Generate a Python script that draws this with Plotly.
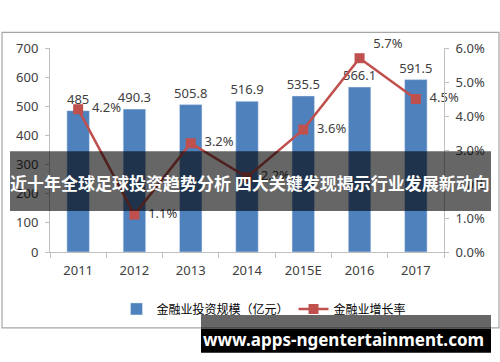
import plotly.graph_objects as go

categories = ["2011", "2012", "2013", "2014", "2015E", "2016", "2017"]
invest_scale = [485, 490.3, 505.8, 516.9, 535.5, 566.1, 591.5]
growth_rate = [0.042, 0.011, 0.032, 0.022, 0.036, 0.057, 0.045]
bar_name = "金融业投资规模（亿元）"
line_name = "金融业增长率"
title_text = "近十年全球足球投资趋势分析 四大关键发现揭示行业发展新动向"
watermark = "www.apps-ngentertainment.com"

W, H = 500, 362
L, R, T, B = 50, 444, 47.7, 252.0

def px(x):
    return (x - L) / (R - L)

def py(y):
    return (B - y) / (B - T)

FONT = "Noto Sans, Noto Sans CJK SC, sans-serif"
TXT = "#404040"

line_pos = ["middle right"] * len(categories)
line_pos[5] = "top right"

fig = go.Figure()
fig.add_trace(go.Bar(
    x=categories, y=invest_scale, name=bar_name,
    marker=dict(color="#4f81bd"), width=0.4,
    text=[f"{v:g}" for v in invest_scale], textposition="outside",
    constraintext="none",
    textfont=dict(size=13, color=TXT, family=FONT), cliponaxis=False,
))
fig.add_trace(go.Scatter(
    x=categories, y=growth_rate, name=line_name, yaxis="y2",
    mode="lines+markers+text",
    line=dict(color="#c0504d", width=2.5),
    marker=dict(symbol="square", size=10, color="#c0504d"),
    text=[f"\u2002{v*100:.1f}%" for v in growth_rate], textposition=line_pos,
    textfont=dict(size=13, color=TXT, family=FONT), cliponaxis=False,
))

shapes = [
    dict(type="rect", xref="paper", yref="paper", x0=px(2), x1=px(499), y0=py(328), y1=py(32),
         line=dict(color="#a6a6a6", width=1.2), fillcolor="rgba(0,0,0,0)", layer="below"),
    dict(type="rect", xref="paper", yref="paper", x0=px(10), x1=px(491), y0=py(211), y1=py(151),
         line=dict(width=0), fillcolor="rgba(0,0,0,0.6)", layer="above"),
    dict(type="rect", xref="paper", yref="paper", x0=px(201), x1=px(491), y0=py(329), y1=py(315),
         line=dict(width=0), fillcolor="rgba(0,0,0,0.6)", layer="above"),
    dict(type="rect", xref="paper", yref="paper", x0=px(201), x1=px(491), y0=py(353), y1=py(329),
         line=dict(width=0), fillcolor="#000000", layer="above"),
]

annotations = [
    dict(text=f"<b>{title_text}</b>", xref="paper", yref="paper", x=px(250), y=py(182),
         xanchor="center", yanchor="middle", showarrow=False,
         font=dict(size=17, color="white", family="Noto Sans CJK SC")),
    dict(text=f"<b>{watermark}</b>", xref="paper", yref="paper", x=px(343), y=py(340),
         xanchor="center", yanchor="middle", showarrow=False,
         font=dict(size=17, color="white", family="Noto Sans, DejaVu Sans")),
]

fig.update_layout(
    width=W, height=H,
    margin=dict(l=L, r=W - R, t=T, b=H - B, autoexpand=False),
    paper_bgcolor="white", plot_bgcolor="white",
    font=dict(family=FONT, color=TXT, size=13),
    showlegend=True,
    legend=dict(orientation="h", x=px(264), y=py(309), xanchor="center", yanchor="middle",
                font=dict(size=12, color="#000000", family="Noto Sans CJK SC"),
                bgcolor="rgba(0,0,0,0)", itemwidth=30, tracegroupgap=0),
    bargap=0.6,
    xaxis=dict(showline=True, linecolor="#bfbfbf", linewidth=1, ticks="outside",
               tickson="boundaries", ticklen=5, tickcolor="#bfbfbf",
               ticklabelstandoff=6, tickfont=dict(size=13, color=TXT), showgrid=False),
    yaxis=dict(range=[0, 700], dtick=100, showline=True, linecolor="#bfbfbf", linewidth=1,
               ticks="outside", ticklen=4, tickcolor="#bfbfbf", showgrid=False, zeroline=False,
               tickfont=dict(size=13, color=TXT), ticklabelstandoff=4),
    yaxis2=dict(range=[0, 0.06], dtick=0.01, tickformat=".1%", overlaying="y", side="right",
                showline=True, linecolor="#bfbfbf", linewidth=1, ticks="outside", ticklen=4,
                tickcolor="#bfbfbf", showgrid=False, zeroline=False,
                tickfont=dict(size=13, color=TXT), ticklabelstandoff=4),
    shapes=shapes, annotations=annotations,
)

fig.write_html("out.html", config={"displayModeBar": False},
               post_script="document.body.style.margin='0';")
